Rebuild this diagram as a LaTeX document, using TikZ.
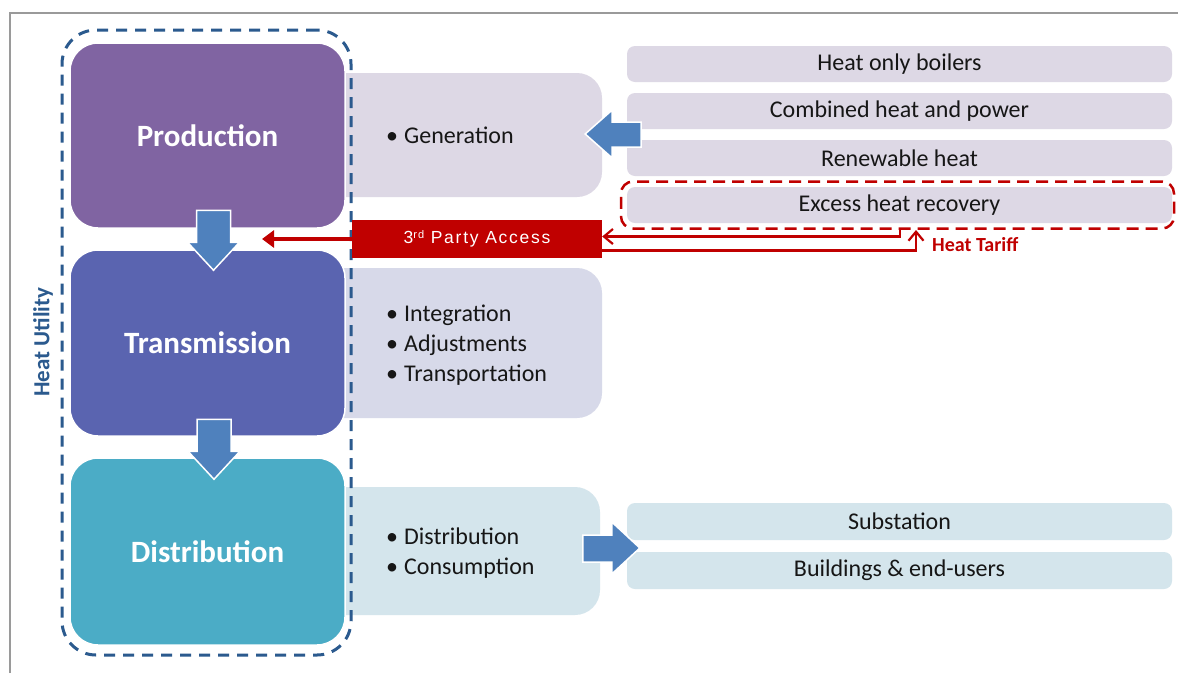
\documentclass[tikz,border=0pt]{standalone}
\usepackage{fontspec}
\setmainfont{Carlito}
\newfontfamily\accessfont{Liberation Sans}[LetterSpace=10]
\usetikzlibrary{arrows.meta,calc}

\definecolor{prodcol}{HTML}{8064A2}
\definecolor{transcol}{HTML}{5A64B0}
\definecolor{distcol}{HTML}{4BACC6}
\definecolor{flowblue}{HTML}{4F81BD}
\definecolor{utilblue}{HTML}{2B5A8E}
\definecolor{lilac}{HTML}{DDD8E5}
\definecolor{periwinkle}{HTML}{D7D9E9}
\definecolor{paleteal}{HTML}{D4E5EC}
\definecolor{accessred}{HTML}{C00000}
\definecolor{framegray}{HTML}{9A9A9A}
\definecolor{inktext}{HTML}{161616}

\newcommand\blt{\makebox[18pt][l]{•}}

\tikzset{
  panel/.style={rounded corners=25pt, inner sep=0pt, minimum width=302pt},
  stage/.style={draw=white, line width=1.5pt, rounded corners=28pt,
    minimum width=275pt, inner sep=0pt, text=white,
    font=\fontsize{31}{37}\selectfont\bfseries},
  source/.style={fill=lilac, rounded corners=8pt, minimum width=545pt,
    minimum height=36pt, inner sep=0pt, text=inktext,
    font=\fontsize{24}{28}\selectfont},
  bullets/.style={anchor=west, align=left, inner sep=0pt, text=inktext,
    font=\fontsize{24}{30}\selectfont},
  flow/.style={fill=flowblue, draw=white, line width=1.5pt, line join=miter},
  tariff/.style={draw=accessred, line width=2.2pt,
    -{Straight Barb[length=9pt,width=15pt]}},
  downflow/.pic={\path[flow] (0,0) -- (26,-28) -- (17,-28) -- (17,-60)
    -- (-17,-60) -- (-17,-28) -- (-26,-28) -- cycle;},
  leftflow/.pic={\path[flow] (0,0) -- (27,-24) -- (27,-12) -- (56,-12)
    -- (56,13) -- (27,13) -- (27,24) -- cycle;},
  rightflow/.pic={\path[flow] (0,0) -- (-28,-26) -- (-28,-13) -- (-57,-13)
    -- (-57,14) -- (-28,14) -- (-28,26) -- cycle;}
}

\begin{document}
\begin{tikzpicture}[x=1pt, y=-1pt]
\useasboundingbox (0,0) rectangle (1178,673);
\fill[white] (0,0) rectangle (1178,673);

% outer frame
\draw[framegray, line width=2.5pt] (10,673) -- (10,13) -- (1178,13);

% detail panels behind the stages
\node[panel, fill=lilac, minimum height=124pt] (genp) at (451,135) {};
\node[panel, fill=periwinkle, minimum height=150pt] (transp) at (451,343) {};
\node[panel, fill=paleteal, minimum height=128pt, minimum width=300pt] (distp) at (450,551) {};

% the three stages
\node[stage, fill=prodcol, minimum height=185pt] (prod) at (207.5,135.5) {Production};
\node[stage, fill=transcol, minimum height=186pt] (trans) at (207.5,343) {Transmission};
\node[stage, fill=distcol, minimum height=187pt] (dist) at (207.5,551.5) {Distribution};

% heat utility outline
\node[draw=utilblue, line width=3pt, dash pattern=on 11pt off 8pt,
  rounded corners=34pt, minimum width=289pt, minimum height=625pt,
  inner sep=0pt] (utility) at (206.5,342.5) {};
\node[rotate=90, text=utilblue, inner sep=0pt,
  font=\fontsize{23}{27}\selectfont\bfseries] (utillabel) at (43,342) {Heat Utility};

% flows between the stages
\pic at ([xshift=6pt,yshift=-21pt]trans.north) {downflow};
\pic at ([xshift=6.5pt,yshift=-22pt]dist.north) {downflow};

% panel contents
\node[bullets] (genlist) at (386,135) {\blt Generation};
\node[bullets] (translist) at (386,345) {\blt Integration\\ \blt Adjustments\\ \blt Transportation};
\node[bullets] (distlist) at (386,553) {\blt Distribution\\ \blt Consumption};

% heat sources
\node[source] (hob) at (899.5,64) {Heat only boilers};
\node[source] (chp) at (899.5,111) {Combined heat and power};
\node[source] (ren) at (899.5,158) {Renewable heat};
\node[source] (ehr) at (899.5,205) {Excess heat recovery};
\node[draw=accessred, line width=2.5pt, dash pattern=on 12pt off 7pt,
  rounded corners=12pt, minimum width=553pt, minimum height=47pt,
  inner sep=0pt] (recovery) at (897.5,205) {};
\pic at ([xshift=-17pt,yshift=1pt]genp.east) {leftflow};

% consumers
\node[source, fill=paleteal, minimum height=37pt] (sub) at (899.5,521.5) {Substation};
\node[source, fill=paleteal, minimum height=37pt] (bld) at (899.5,570.5) {Buildings \& end-users};
\pic at ([xshift=13pt,yshift=-2pt]$(sub.west)!0.5!(bld.west)$) {rightflow};

% third party access
\node[fill=accessred, minimum width=250pt, minimum height=38pt, inner sep=0pt,
  text=white, font=\accessfont\fontsize{17.5}{20}\selectfont] (access) at (477,239)
  {3\raisebox{5pt}{\fontsize{11}{11}\selectfont rd} Party Access};
\coordinate (accessend) at (262,239);
\draw[accessred, line width=4pt, -{Triangle[length=12pt,width=17pt]}] (access.west) -- (accessend);

% heat tariff exchange
\coordinate (tariffout) at (900,229);
\coordinate (tariffin) at (916,230);
\draw[tariff] (tariffout) |- ([yshift=2.5pt]access.east);
\draw[tariff] ([yshift=-11.5pt]access.east) -| (tariffin);
\node[anchor=west, inner sep=0pt, text=accessred,
  font=\fontsize{20}{24}\selectfont\bfseries] (tarifflabel) at (932,245) {Heat Tariff};
\end{tikzpicture}
\end{document}
